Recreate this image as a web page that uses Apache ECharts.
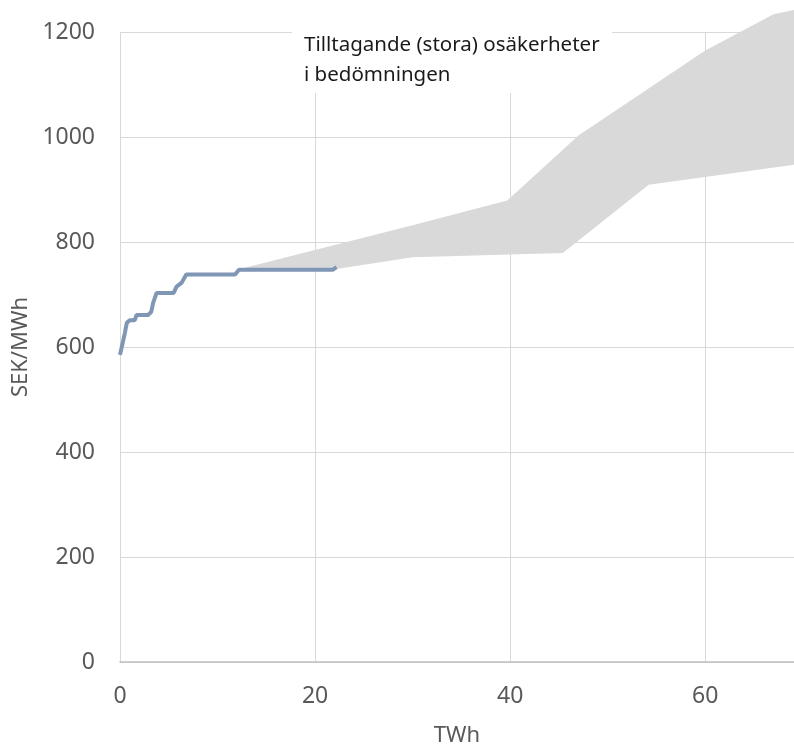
<!DOCTYPE html>
<html>
<head>
<meta charset="utf-8">
<script src="https://cdn.jsdelivr.net/npm/echarts@6/dist/echarts.min.js"></script>
<style>
  html, body { margin: 0; padding: 0; background: #fff; }
  #chart { width: 794px; height: 747px; }
</style>
</head>
<body>
<div id="chart"></div>
<script>
// kända kostnader (TWh, SEK/MWh)
var curveTWh = [0, 0.3, 0.5, 0.7, 1.0, 1.5, 1.7, 2.9, 3.2, 3.4, 3.75, 5.5, 5.8, 6.3, 6.8, 11.8, 12.2, 21.8, 22.2]
var curvePrice = [585, 610, 627, 646, 651, 651, 661, 661, 667, 684, 703, 703, 715, 722, 738, 738, 747, 747, 752]

// osäkerhetsband, övre och undre kant
var upperTWh = [12.2, 30, 39.7, 47, 60, 67, 69.1]
var upperPrice = [748, 832, 879, 1003, 1165, 1234, 1242]
var lowerTWh = [12.2, 22, 30, 45.4, 54.2, 69.1]
var lowerPrice = [748, 748, 771, 779, 909, 947]

var noteText = 'Tilltagande (stora) osäkerheter\ni bedömningen'
var fontName = 'Noto Sans'

var chart = echarts.init(document.getElementById('chart'))

function pairs(xs, ys) {
  return xs.map(function(x, i) { return [x, ys[i]] })
}

var option = {
  animation: false,
  textStyle: { fontFamily: fontName },
  grid: {
    left: 120,
    right: 0,
    top: 32,
    bottom: 85,
    outerBoundsMode: 'none',
    containLabel: false
  },
  xAxis: {
    type: 'value',
    min: 0,
    max: 69.1,
    interval: 20,
    name: 'TWh',
    nameLocation: 'middle',
    nameGap: 63,
    nameTextStyle: { color: '#595959', fontSize: 22 },
    axisLine: { show: true, lineStyle: { color: '#bfbfbf', width: 1.5 } },
    axisTick: { show: false },
    axisLabel: { color: '#595959', fontSize: 23, margin: 23, showMaxLabel: false },
    splitLine: { show: true, lineStyle: { color: '#d9d9d9', width: 1 } }
  },
  yAxis: {
    type: 'value',
    min: 0,
    max: 1200,
    interval: 200,
    name: 'SEK/MWh',
    nameLocation: 'middle',
    nameGap: 88,
    nameRotate: 90,
    nameTextStyle: { color: '#595959', fontSize: 22 },
    axisLine: { show: false },
    axisTick: { show: false },
    axisLabel: {
      color: '#595959',
      fontSize: 23,
      margin: 25,
      formatter: function(v) { return String(v) }
    },
    splitLine: { show: true, lineStyle: { color: '#d9d9d9', width: 1 } }
  },
  series: [
    {
      type: 'custom',
      name: 'band',
      silent: true,
      z: 2,
      data: [[0]],
      renderItem: function(params, api) {
        var pts = []
        upperTWh.forEach(function(x, i) { pts.push(api.coord([x, upperPrice[i]])) })
        for (var i = lowerTWh.length - 1; i >= 0; i--) {
          pts.push(api.coord([lowerTWh[i], lowerPrice[i]]))
        }
        return {
          type: 'polygon',
          shape: { points: pts },
          style: { fill: '#d9d9d9' }
        }
      }
    },
    {
      type: 'line',
      name: 'kurva',
      z: 3,
      showSymbol: false,
      data: pairs(curveTWh, curvePrice),
      lineStyle: { color: '#7f96b5', width: 4 }
    }
  ],
  graphic: [
    {
      type: 'rect',
      z: 100,
      shape: { x: 292, y: 16, width: 320, height: 77 },
      style: { fill: '#ffffff' }
    },
    {
      type: 'text',
      z: 101,
      left: 304,
      top: 30,
      style: {
        text: noteText,
        fill: '#1a1a1a',
        font: '20.5px "Noto Sans"',
        lineHeight: 30
      }
    }
  ]
}

chart.setOption(option)
</script>
</body>
</html>
